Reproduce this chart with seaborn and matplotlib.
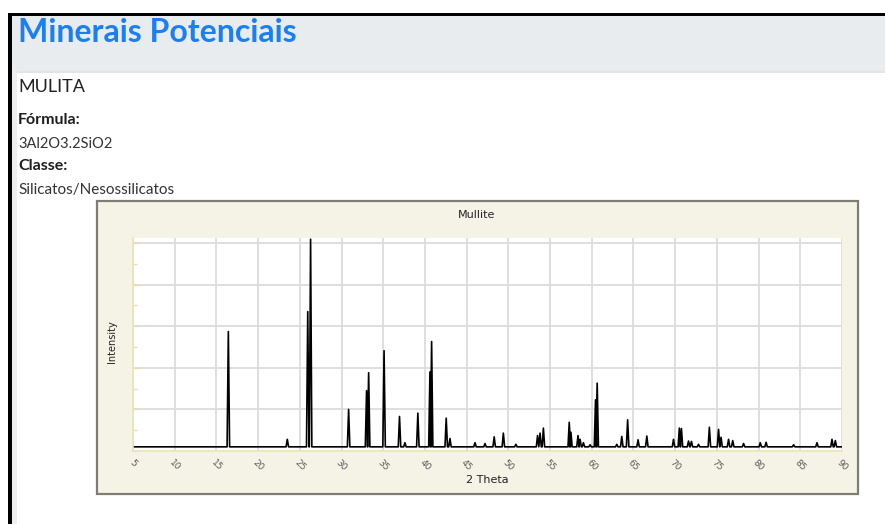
import pandas as pd
import seaborn as sns
import matplotlib.pyplot as plt
from matplotlib.patches import Rectangle
from matplotlib.ticker import MultipleLocator, NullFormatter

# Peak list (2 theta in degrees, intensity in counts)
peak_2theta = [16.43, 23.5, 25.95, 26.29, 30.85, 33.0, 33.25, 35.1, 36.95, 37.6,
               39.15, 40.6, 40.8, 42.55, 43.0, 46.0, 47.2, 48.3, 49.4, 50.9,
               53.5, 53.8, 54.2, 57.3, 57.5, 58.35, 58.6, 59.0, 59.8, 60.45,
               60.65, 63.0, 63.6, 64.3, 65.55, 66.6, 69.8, 70.5, 70.75, 71.6,
               71.95, 72.8, 74.1, 75.2, 75.5, 76.4, 76.9, 78.2, 80.2, 80.9,
               84.2, 87.0, 88.8, 89.2]
peak_intensity = [2870, 280, 3350, 5090, 1000, 1450, 1880, 2410, 830, 200,
                  910, 1900, 2630, 790, 300, 200, 180, 340, 430, 160,
                  370, 430, 550, 690, 450, 370, 280, 200, 150, 1230,
                  1630, 160, 350, 750, 270, 360, 280, 550, 540, 240,
                  230, 160, 570, 520, 330, 280, 250, 180, 200, 210,
                  150, 200, 280, 250]
background = 100
theta_range = (5, 90)

mineral_name = "MULITA"
formula = "3Al2O3.2SiO2"
mineral_class = "Silicatos/Nesossilicatos"
chart_title = "Mullite"

# build the trace: baseline, then a narrow spike at every peak
half_width = 0.15
trace_x = [theta_range[0]]
trace_y = [background]
for pos, height in zip(peak_2theta, peak_intensity):
    trace_x += [pos - half_width, pos, pos + half_width]
    trace_y += [background, height, background]
trace_x.append(theta_range[1])
trace_y.append(background)
df = pd.DataFrame({'2 Theta': trace_x, 'Intensity': trace_y})

W, H = 885, 524


def fx(px):
    return px / W


def fy(py):
    return 1 - py / H


sns.set_theme(style="white")
plt.rcParams['font.family'] = ['DejaVu Sans']

fig = plt.figure(figsize=(W / 100, H / 100), dpi=100)
fig.patch.set_facecolor('white')


def page_rect(x0, y0, x1, y1, color, **kw):
    fig.add_artist(Rectangle((fx(x0), fy(y1)), fx(x1) - fx(x0), fy(y0) - fy(y1),
                             transform=fig.transFigure, facecolor=color,
                             edgecolor=kw.pop('edge', 'none'), zorder=-1, **kw))


# page frame and header band
page_rect(12, 15, 17, H, '#eceef0')
page_rect(12, 15, W, 71, '#e9ecef')
page_rect(17, 71, W, 73, '#e2e4e6')
page_rect(8, 13, W, 15.5, 'black')
page_rect(8, 13, 12, H, 'black')

page_font = ['Lato', 'DejaVu Sans']
fig.text(fx(18), fy(41.5), "Minerais Potenciais", family=page_font, weight='bold',
         fontsize=23, color='#1a7ff5', va='baseline')
fig.text(fx(18), fy(92), mineral_name, family=page_font, fontsize=13,
         color='#222222', va='baseline')
fig.text(fx(18), fy(124.5), "Fórmula:", family=page_font, weight='bold',
         fontsize=11.5, color='#1e1e1e', va='baseline')
fig.text(fx(18), fy(148), formula, family=page_font, fontsize=10.5,
         color='#333333', va='baseline')
fig.text(fx(18), fy(170.5), "Classe:", family=page_font, weight='bold',
         fontsize=11.5, color='#1e1e1e', va='baseline')
fig.text(fx(18), fy(194), mineral_class, family=page_font, fontsize=11,
         color='#333333', va='baseline')

# chart panel
page_rect(97, 201, 858, 494, '#f5f3e6', edge='#7d7d75', lw=1.6)

ax = fig.add_axes([fx(133), fy(451), fx(842) - fx(133), fy(238) - fy(451)])
ax.set_zorder(5)
ax.set_facecolor('white')
sns.lineplot(data=df, x='2 Theta', y='Intensity', sort=False, estimator=None,
             color='black', lw=1.2, ax=ax)
ax.set_xlim(*theta_range)
ax.set_ylim(0, 5120)
ax.xaxis.set_major_locator(MultipleLocator(5))
ax.xaxis.set_minor_locator(MultipleLocator(1))
ax.set_yticks([1000, 2000, 3000, 4000, 5000])
ax.yaxis.set_minor_locator(MultipleLocator(500))
ax.yaxis.set_major_formatter(NullFormatter())
ax.grid(True, which='major', color='#dcdcdc', lw=1.3)
ax.set_axisbelow(True)
for side in ['top', 'right']:
    ax.spines[side].set_visible(False)
for side in ['left', 'bottom']:
    ax.spines[side].set_color('#ebe4b8')
    ax.spines[side].set_linewidth(1.2)
ax.tick_params(axis='x', which='major', direction='out', length=4, width=1,
               color='#e6dfae', labelcolor='#5a5a5a', labelsize=6.5, pad=1)
ax.tick_params(axis='x', which='minor', direction='out', length=2.5, width=1,
               color='#e6dfae')
ax.tick_params(axis='y', which='both', direction='in', length=3, width=1,
               color='#e6dfae', left=True)
ax.tick_params(axis='y', which='major', length=5)
for lab in ax.get_xticklabels():
    lab.set_rotation(-45)
    lab.set_ha('center')
ax.set_xlabel('')
ax.set_ylabel('')

fig.text(fx(477), fy(215), chart_title, fontsize=8, color='#222222',
         ha='center', va='center')
fig.text(fx(487), fy(480), "2 Theta", fontsize=8, color='#222222',
         ha='center', va='center')
fig.text(fx(112), fy(342), "Intensity", fontsize=7, color='#222222',
         ha='center', va='center', rotation=90)

fig.savefig('out.png', dpi=100)
plt.close(fig)
